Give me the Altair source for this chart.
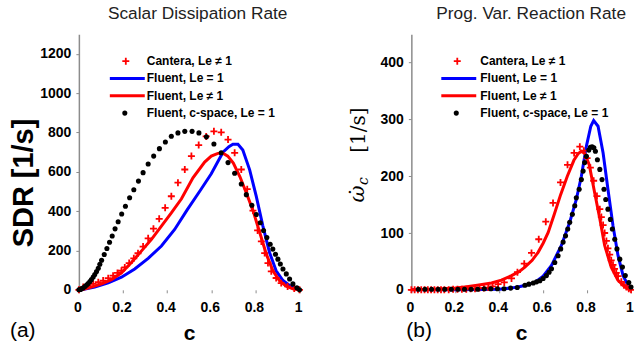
import altair as alt
import pandas as pd

LABELS = ["Cantera, Le \u2260 1", "Fluent, Le = 1", "Fluent, Le \u2260 1", "Fluent, c-space, Le = 1"]
X_TICKS = [0, 0.2, 0.4, 0.6, 0.8, 1]

# ---------------- panel (a): scalar dissipation rate ----------------
a_cant_c = [0.0, 0.02, 0.042, 0.065, 0.088, 0.11, 0.133, 0.155, 0.175, 0.193, 0.208, 0.228, 0.249, 0.268,
            0.291, 0.314, 0.338, 0.364, 0.391, 0.419, 0.449, 0.48, 0.51, 0.543, 0.577, 0.612, 0.645, 0.676,
            0.706, 0.736, 0.763, 0.789, 0.81, 0.827, 0.842, 0.857, 0.872, 0.894, 0.917, 0.946, 0.976, 1.0]
a_cant_v = [0, 14, 22, 30, 39, 47, 59, 72, 86, 97, 114, 136, 160, 186,
            220, 262, 311, 361, 417, 476, 545, 612, 680, 736, 780, 806, 801, 764,
            697, 612, 512, 403, 302, 246, 187, 136, 94, 60, 34, 17, 7, 0]

a_blue_c = [0.0, 0.012, 0.072, 0.133, 0.193, 0.253, 0.314, 0.374, 0.434, 0.49, 0.55, 0.60, 0.653,
            0.68, 0.698, 0.721, 0.743, 0.774, 0.804, 0.834, 0.864, 0.894, 0.925, 0.955, 0.985, 1.0]
a_blue_v = [0, 0, 14, 35, 64, 106, 160, 223, 307, 405, 505, 590, 700,
            728, 740, 740, 711, 610, 475, 324, 190, 97, 47, 22, 5, 0]

a_red_c = [0.0, 0.012, 0.057, 0.103, 0.148, 0.193, 0.238, 0.284, 0.329, 0.374, 0.419, 0.465, 0.517, 0.57,
           0.60, 0.63, 0.653, 0.675, 0.70, 0.73, 0.76, 0.79, 0.82, 0.85, 0.88, 0.91, 0.94, 0.97, 1.0]
a_red_v = [0, 0, 14, 30, 52, 86, 139, 198, 257, 324, 391, 463, 570, 650,
           680, 694, 695, 680, 645, 575, 490, 400, 290, 180, 95, 45, 18, 5, 0]

a_dot_c = [0.0, 0.006, 0.012, 0.02, 0.027, 0.035, 0.042, 0.05, 0.057, 0.065, 0.072, 0.08, 0.088, 0.095,
           0.103, 0.115, 0.127, 0.139, 0.151, 0.164, 0.178, 0.194, 0.211, 0.23, 0.249, 0.27, 0.291, 0.314,
           0.339, 0.365, 0.392, 0.419, 0.449, 0.48, 0.513, 0.544, 0.578, 0.612, 0.645, 0.676, 0.706, 0.736,
           0.759, 0.784, 0.804, 0.822, 0.837, 0.852, 0.867, 0.879, 0.891, 0.902, 0.913, 0.925, 0.94, 0.955,
           0.97, 0.988, 1.0]
a_dot_v = [0, 2, 5, 10, 17, 24, 32, 42, 52, 65, 78, 93, 110, 130,
           150, 180, 210, 242, 274, 310, 346, 386, 425, 468, 509, 553, 596, 640,
           680, 718, 752, 781, 798, 806, 806, 798, 778, 742, 697, 647, 593, 538,
           484, 430, 383, 341, 302, 266, 232, 207, 181, 156, 131, 106, 81, 55,
           30, 10, 0]

# ---------------- panel (b): progress variable reaction rate ----------------
b_cant_c = [0.0, 0.015, 0.03, 0.045, 0.06, 0.075, 0.09, 0.105, 0.12, 0.135, 0.15,
            0.17, 0.19, 0.21, 0.23, 0.25, 0.27, 0.29, 0.31, 0.33, 0.35, 0.37,
            0.395, 0.423, 0.456, 0.483, 0.514, 0.547, 0.58, 0.612, 0.645, 0.679, 0.711, 0.741, 0.767,
            0.785, 0.80, 0.815, 0.83, 0.845, 0.858,
            0.865, 0.873, 0.88, 0.888, 0.895, 0.903, 0.91, 0.918, 0.925, 0.933, 0.941,
            0.956, 0.968, 0.979, 0.99, 1.0]
b_cant_v = [0, 0, 0, 0, 0, 0, 0, 0, 0, 0, 0,
            0, 1, 1, 1, 1, 2, 2, 3, 3, 4, 6,
            10, 13, 20, 31, 46, 65, 89, 120, 153, 189, 220, 241, 252,
            245, 232, 215, 192, 165, 142,
            128, 114, 100, 86, 73, 62, 52, 44, 37, 30, 24,
            14, 8, 5, 2, 0]

b_blue_c = [0.0, 0.2, 0.4, 0.45, 0.486, 0.52, 0.562, 0.60, 0.638, 0.683, 0.721, 0.751, 0.774, 0.797,
            0.817, 0.83, 0.85, 0.873, 0.895, 0.918, 0.941, 0.964, 0.986, 1.0]
b_blue_v = [0, 0, 1, 3, 5, 8, 13, 24, 43, 78, 119, 159, 200, 253,
            288, 298, 288, 241, 177, 113, 60, 25, 8, 0]

b_red_c = [0.0, 0.1, 0.2, 0.244, 0.3, 0.365, 0.41, 0.456, 0.49, 0.517, 0.55, 0.577, 0.60, 0.623, 0.65,
           0.68, 0.71, 0.74, 0.76, 0.774, 0.79, 0.81, 0.835, 0.858, 0.88, 0.91, 0.94, 0.97, 1.0]
b_red_v = [0, 1, 3, 5, 8, 12, 17, 25, 32, 40, 52, 66, 82, 101, 132,
           168, 200, 228, 240, 244, 240, 220, 170, 125, 78, 40, 17, 6, 0]

b_dot_c = [0.032, 0.062, 0.092, 0.122, 0.152, 0.182, 0.212, 0.242, 0.272, 0.302, 0.332, 0.362, 0.392,
           0.422, 0.452, 0.482, 0.517, 0.535, 0.555, 0.57, 0.585, 0.60, 0.615, 0.627, 0.638, 0.653, 0.668,
           0.68, 0.691, 0.702, 0.712, 0.721, 0.733, 0.744, 0.751, 0.764, 0.774, 0.782, 0.789, 0.797, 0.808,
           0.815, 0.823, 0.831, 0.838, 0.847, 0.858, 0.868, 0.877, 0.885, 0.895, 0.906, 0.915, 0.926, 0.936,
           0.949, 0.961, 0.974, 0.99, 1.0]
b_dot_v = [1, 1, 1, 1, 1, 1, 1, 1, 1, 1, 2, 2, 2,
           2, 3, 4, 8, 10, 12, 14, 16, 20, 25, 31, 37, 48, 60,
           72, 84, 95, 107, 119, 133, 148, 162, 177, 194, 209, 224, 235, 246,
           251, 252, 250, 244, 229, 212, 194, 177, 159, 142, 124, 107, 89, 72,
           54, 40, 25, 13, 5]

FONT = "Liberation Sans"
SERIF = "DejaVu Serif"
GREY = "#8c8c8c"
PLUS = "M-1,0L1,0M0,-1L0,1"
H = 256


def frame(c, v):
    return pd.DataFrame({"c": c, "v": v})


def panel(cant, blue, red, dots, ymax, yticks, width, ytitle, title, title_dx, tag, leg_sym_x, leg_txt_x,
          extra_title=None):
    xs = alt.Scale(domain=[0, 1], nice=False, zero=False)
    ys = alt.Scale(domain=[0, ymax], nice=False)
    xaxis = alt.Axis(values=X_TICKS, format="~g", domain=False, grid=False, ticks=True, tickSize=3,
                     tickColor=GREY, tickWidth=1, labelFont=FONT, labelFontSize=14, labelFontWeight="bold",
                     labelColor="black", labelPadding=8, labelFlush=False, labelOffset=-1.5,
                     title="c", titleFont=FONT, titleFontSize=21, titleFontWeight="bold", titleColor="black",
                     titleBaseline="alphabetic", titleY=50)
    yaxis_kw = dict(values=yticks, format="d", grid=False, domain=True, domainColor=GREY, domainWidth=1.5,
                    ticks=True, tickSize=3, tickColor=GREY, tickWidth=1, labelFont=FONT, labelFontSize=14,
                    labelFontWeight="bold", labelColor="black", labelPadding=5)
    if ytitle:
        yaxis = alt.Axis(title=ytitle, titleFont=FONT, titleFontSize=29, titleFontWeight="bold",
                         titleColor="black", titleAngle=270, titleBaseline="middle", titleX=-55, titleY=148.5,
                         **yaxis_kw)
    else:
        yaxis = alt.Axis(title=None, **yaxis_kw)
    X = alt.X("c:Q", scale=xs, axis=xaxis)
    Y = alt.Y("v:Q", scale=ys, axis=yaxis)

    blue_l = alt.Chart(frame(*blue)).mark_line(color="#0000ff", strokeWidth=3).encode(x=X, y=Y)
    red_l = alt.Chart(frame(*red)).mark_line(color="#ff0000", strokeWidth=3).encode(x=X, y=Y)
    cant_p = alt.Chart(frame(*cant)).mark_point(shape=PLUS, size=49, strokeWidth=1.8, color="#ff0000",
                                                filled=False, opacity=1).encode(x=X, y=Y)
    dot_p = alt.Chart(frame(*dots)).mark_circle(size=26, color="black", opacity=1).encode(x=X, y=Y)
    data_layer = alt.layer(blue_l, red_l, cant_p, dot_p)

    leg = pd.DataFrame({"label": LABELS})
    LY = alt.Y("label:N", scale=alt.Scale(type="point", domain=LABELS, range=[27, 79], padding=0),
               axis=None)
    base = alt.Chart(leg)
    l_text = base.mark_text(align="left", baseline="middle", font=FONT, fontSize=12, fontWeight="bold",
                            color="black").encode(x=alt.value(leg_txt_x), y=LY, text="label:N")
    l_plus = base.transform_filter(alt.datum.label == LABELS[0]).mark_point(
        shape=PLUS, size=49, strokeWidth=1.8, color="#ff0000", filled=False, opacity=1
    ).encode(x=alt.value(leg_sym_x + 16), y=LY)
    l_blue = base.transform_filter(alt.datum.label == LABELS[1]).mark_rule(
        color="#0000ff", strokeWidth=3).encode(x=alt.value(leg_sym_x), x2=alt.value(leg_sym_x + 35), y=LY)
    l_red = base.transform_filter(alt.datum.label == LABELS[2]).mark_rule(
        color="#ff0000", strokeWidth=3).encode(x=alt.value(leg_sym_x), x2=alt.value(leg_sym_x + 35), y=LY)
    l_dot = base.transform_filter(alt.datum.label == LABELS[3]).mark_circle(
        size=26, color="black", opacity=1).encode(x=alt.value(leg_sym_x + 15), y=LY)
    tag_t = alt.Chart(pd.DataFrame({"t": [tag]})).mark_text(
        align="left", baseline="middle", font=FONT, fontSize=21, color="black"
    ).encode(x=alt.value(-69 if tag == "(a)" else -5), y=alt.value(297), text="t:N")
    legend_layers = [l_blue, l_red, l_plus, l_dot, l_text, tag_t]
    if extra_title is not None:
        legend_layers += extra_title
    legend_layer = alt.layer(*legend_layers)

    return alt.layer(data_layer, legend_layer).resolve_scale(y="independent").properties(
        width=width, height=H,
        title=alt.Title(title, font=FONT, fontSize=17.3, fontWeight="normal", color="#222222",
                        anchor="middle", dx=title_dx, baseline="alphabetic", offset=-2),
    )


def rot_text(txt, x, y, size, style="normal"):
    return alt.Chart(pd.DataFrame({"t": [txt]})).mark_text(
        align="center", baseline="alphabetic", angle=270, font=SERIF, fontSize=size, fontStyle=style,
        color="black"
    ).encode(x=alt.value(x), y=alt.value(y), text="t:N")


omega_title = [
    rot_text("\u03c9", -47, 160, 21, "italic"),
    rot_text("\u02d9", -47, 158, 21),
    rot_text("c", -43, 147, 14, "italic"),
    rot_text("[1/s]", -46, 96, 20),
]

left = panel((a_cant_c, a_cant_v), (a_blue_c, a_blue_v), (a_red_c, a_red_v), (a_dot_c, a_dot_v),
             1300, [0, 200, 400, 600, 800, 1000, 1200], 221, "SDR [1/s]", "Scalar Dissipation Rate", 8.5,
             "(a)", 31, 68)
right = panel((b_cant_c, b_cant_v), (b_blue_c, b_blue_v), (b_red_c, b_red_v), (b_dot_c, b_dot_v),
              450, [0, 100, 200, 300, 400], 220, None, "Prog. Var. Reaction Rate", 10,
              "(b)", 30, 69, extra_title=omega_title)

chart = alt.hconcat(left, right, spacing=40).properties(
    padding={"left": 10, "top": 4, "right": -5, "bottom": 0}
).configure_view(stroke=None)

chart.save("out.html", embed_options={"renderer": "svg", "actions": False})
